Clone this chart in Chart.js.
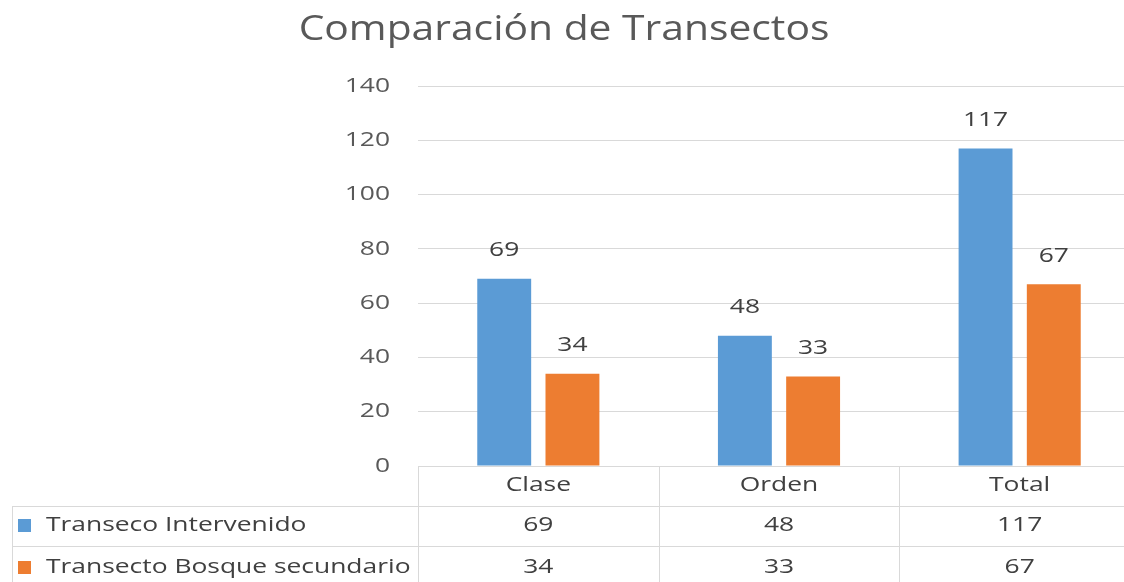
<!DOCTYPE html>
<html>
<head>
<meta charset="utf-8">
<script src="https://cdn.jsdelivr.net/npm/chart.js@4"></script>
<style>
  html, body { margin: 0; padding: 0; background: #fff; overflow: hidden; }
  canvas { display: block; }
</style>
</head>
<body>
<canvas id="grafico" width="1140" height="582"></canvas>
<script>
// datos del grafico
const categorias = ["Clase", "Orden", "Total"];
const nombresSeries = ["Transeco Intervenido", "Transecto Bosque secundario"];
const intervenido = [69, 48, 117];
const bosqueSecundario = [34, 33, 67];
const ticksY = [0, 20, 40, 60, 80, 100, 120, 140];
const titulo = "Comparación de Transectos";

const azul = "#5B9BD5";
const naranjo = "#ED7D31";
const gris = "#595959";
const grisOscuro = "#404040";
const linea = "#d9d9d9";
const fuente = "'Open Sans', sans-serif";
const estiramiento = 1.32; // el texto del original se ve ensanchado

// dibuja texto ensanchado horizontalmente
function texto(ctx, t, x, y, alinear, escalaX) {
  ctx.save();
  ctx.translate(x, y);
  ctx.scale(escalaX, 1);
  ctx.textAlign = alinear;
  ctx.textBaseline = "middle";
  ctx.fillText(t, 0, 0);
  ctx.restore();
}

// titulo y etiquetas del eje y
const textosEjes = {
  id: "textosEjes",
  afterDraw(chart) {
    const ctx = chart.ctx;
    const y = chart.scales.y;
    ctx.save();
    ctx.fillStyle = gris;
    ctx.font = "34px " + fuente;
    texto(ctx, titulo, 564, 30, "center", 1.2);
    ctx.font = "20px " + fuente;
    ticksY.forEach(v => {
      texto(ctx, String(v), 390, y.getPixelForValue(v), "right", estiramiento);
    });
    ctx.restore();
  }
};

// etiquetas sobre cada barra
const etiquetasBarras = {
  id: "etiquetasBarras",
  afterDatasetsDraw(chart) {
    const ctx = chart.ctx;
    ctx.save();
    ctx.fillStyle = grisOscuro;
    ctx.font = "20px " + fuente;
    chart.data.datasets.forEach((ds, i) => {
      chart.getDatasetMeta(i).data.forEach((barra, j) => {
        texto(ctx, String(ds.data[j]), barra.x, barra.y - 28, "center", estiramiento);
      });
    });
    ctx.restore();
  }
};

// tabla de datos bajo el grafico
const tablaDatos = {
  id: "tablaDatos",
  afterDraw(chart) {
    const ctx = chart.ctx;
    const x = chart.scales.x;
    const area = chart.chartArea;
    const ancho = (x.getPixelForValue(1) - x.getPixelForValue(0));
    const izq = x.getPixelForValue(0) - ancho / 2;
    const arriba = area.bottom;
    const filas = [arriba, arriba + 40, arriba + 80];
    ctx.save();
    ctx.strokeStyle = linea;
    ctx.lineWidth = 1;
    ctx.beginPath();
    for (let i = 0; i <= categorias.length; i++) {
      const px = Math.round(izq + i * ancho) + 0.5;
      ctx.moveTo(px, arriba);
      ctx.lineTo(px, chart.height);
    }
    ctx.moveTo(12.5, filas[1]);
    ctx.lineTo(12.5, chart.height);
    ctx.moveTo(12, filas[1] + 0.5);
    ctx.lineTo(chart.width, filas[1] + 0.5);
    ctx.moveTo(12, filas[2] + 0.5);
    ctx.lineTo(chart.width, filas[2] + 0.5);
    ctx.stroke();

    ctx.fillStyle = grisOscuro;
    ctx.font = "20px " + fuente;
    categorias.forEach((c, i) => {
      texto(ctx, c, x.getPixelForValue(i), filas[0] + 19, "center", estiramiento);
    });
    const valores = [intervenido, bosqueSecundario];
    const colores = [azul, naranjo];
    valores.forEach((serie, k) => {
      const yc = filas[k + 1] + 19 + k * 2;
      serie.forEach((v, i) => {
        texto(ctx, String(v), x.getPixelForValue(i), yc, "center", estiramiento);
      });
      ctx.fillStyle = colores[k];
      ctx.fillRect(18, yc - 6, 13, 13);
      ctx.fillStyle = grisOscuro;
      texto(ctx, nombresSeries[k], 46, yc, "left", estiramiento);
    });
    ctx.restore();
  }
};

new Chart(document.getElementById("grafico"), {
  type: "bar",
  data: {
    labels: categorias,
    datasets: [
      { label: nombresSeries[0], data: intervenido, backgroundColor: azul,
        categoryPercentage: 0.567, barPercentage: 0.79 },
      { label: nombresSeries[1], data: bosqueSecundario, backgroundColor: naranjo,
        categoryPercentage: 0.567, barPercentage: 0.79 }
    ]
  },
  options: {
    responsive: false,
    animation: false,
    devicePixelRatio: 1,
    layout: { padding: { left: 0, right: 0, top: 86, bottom: 116 } },
    plugins: {
      legend: { display: false },
      tooltip: { enabled: false },
      title: { display: false }
    },
    scales: {
      x: {
        grid: { display: false, drawTicks: false },
        border: { display: true, color: linea },
        ticks: { display: false }
      },
      y: {
        min: 0,
        max: 140,
        afterFit(escala) { escala.width = 418; },
        afterBuildTicks(escala) { escala.ticks = ticksY.map(v => ({ value: v })); },
        grid: { color: linea, drawTicks: false },
        border: { display: false },
        ticks: { display: false }
      }
    }
  },
  plugins: [etiquetasBarras, tablaDatos, textosEjes]
});
</script>
</body>
</html>
